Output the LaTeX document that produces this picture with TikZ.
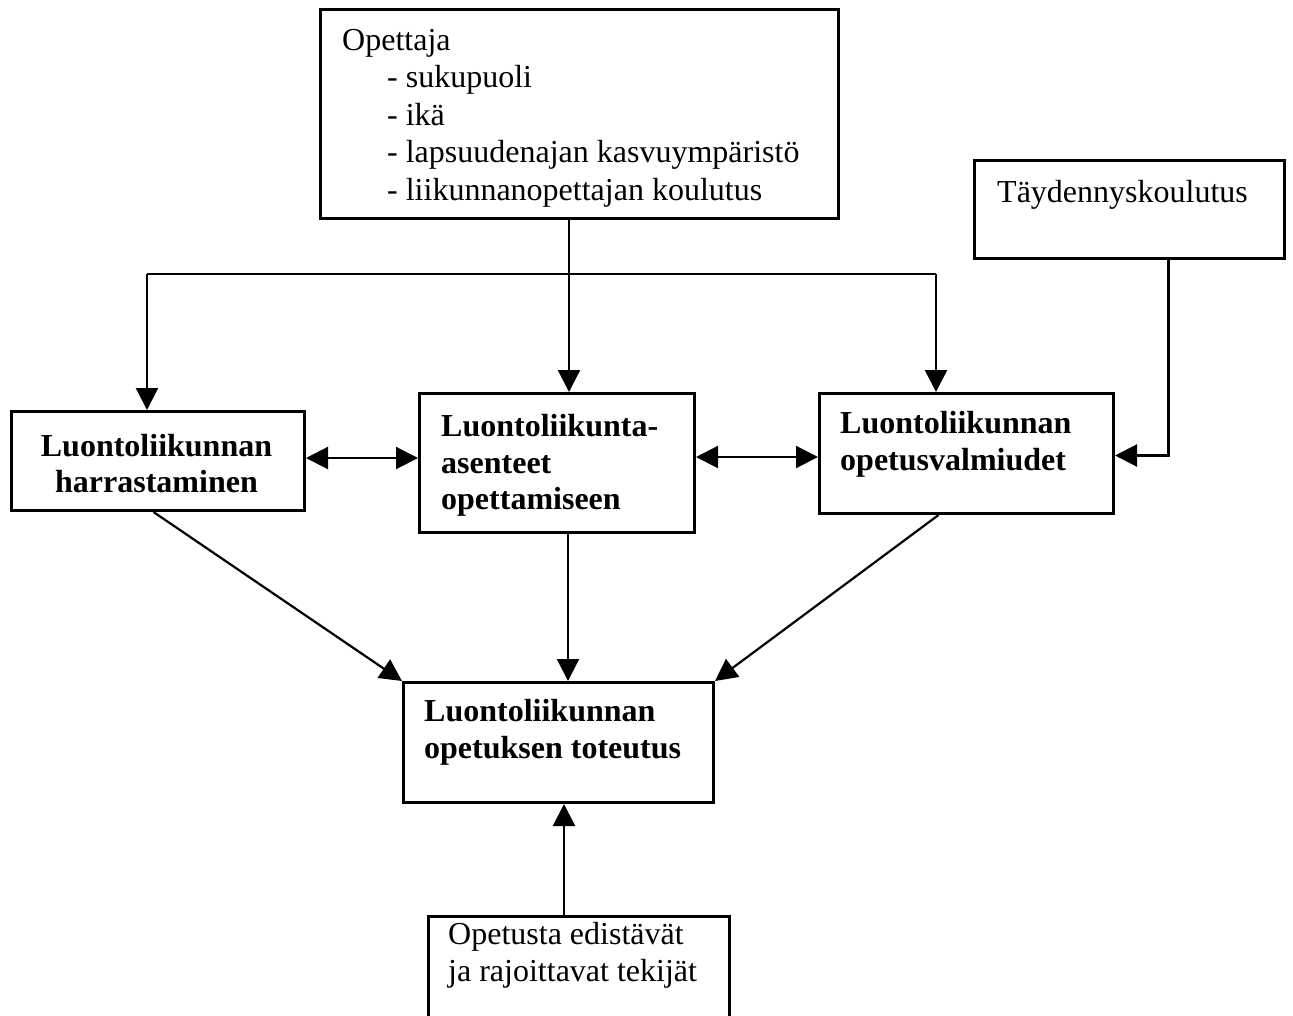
\documentclass[tikz,border=0pt]{standalone}
\usepackage{fontspec}
\setmainfont{Liberation Serif}
\usetikzlibrary{arrows.meta,calc}
\begin{document}
\begin{tikzpicture}[x=1pt,y=-1pt,
  box/.style={draw,line width=3pt,rectangle,anchor=north west,inner sep=0pt},
  txt/.style={anchor=north west,inner sep=0pt,align=left,font=\fontsize{32}{36.5}\selectfont},
  btxt/.style={txt,font=\fontsize{32}{36.5}\selectfont\bfseries},
  conn/.style={line width=2.2pt},
  arr/.style={conn,-{Triangle[length=22pt,width=22pt]}},
  darr/.style={conn,{Triangle[length=22pt,width=22pt]}-{Triangle[length=22pt,width=22pt]}}
]
\useasboundingbox (0,0) rectangle (1293,1015);
\clip (0,0) rectangle (1293,1015);

% boxes
\node[box,minimum width=518pt,minimum height=209pt] (opettaja) at (319,8) {};
\node[box,minimum width=310pt,minimum height=98pt] (tayd) at (973,159) {};
\node[box,minimum width=293pt,minimum height=99pt] (harr) at (10,410) {};
\node[box,minimum width=275pt,minimum height=139pt] (asen) at (418,392) {};
\node[box,minimum width=294pt,minimum height=120pt] (valm) at (818,392) {};
\node[box,minimum width=310pt,minimum height=120pt] (tot) at (402,681) {};
\node[box,minimum width=301pt,minimum height=150pt] (tek) at (427,915) {};

% texts
\node[txt,font=\fontsize{32}{37.5}\selectfont] (opettajaT) at (342,23.75)
  {\strut Opettaja\\
   \hspace*{45pt}- sukupuoli\\
   \hspace*{45pt}- ikä\\
   \hspace*{45pt}- lapsuudenajan kasvuympäristö\\
   \hspace*{45pt}- liikunnanopettajan koulutus};
\node[txt] (taydT) at (997,176.75) {\strut Täydennyskoulutus};
\node[btxt,align=center,anchor=north] (harrT) at (156.5,430.5)
  {\strut Luontoliikunnan\\harrastaminen};
\node[btxt] (asenT) at (441,410.75)
  {\strut Luontoliikunta-\\asenteet\\opettamiseen};
\node[btxt] (valmT) at (840,407.75)
  {\strut Luontoliikunnan\\opetusvalmiudet};
\node[btxt] (totT) at (424,695.75)
  {\strut Luontoliikunnan\\opetuksen toteutus};
\node[txt] (tekT) at (448,919)
  {\strut Opetusta edistävät\\ja rajoittavat tekijät};

% junction coordinates
\coordinate (j) at (569,274);
\coordinate (jL) at (147,274);
\coordinate (jR) at (936,274);
\coordinate (up) at (564,0);

% connectors from Opettaja
\draw[conn] (j |- opettaja.south) -- (j);
\draw[conn] (jL) -- (jR);
\draw[arr] (j) -- (j |- asen.north);
\draw[arr] (jL) -- (jL |- harr.north);
\draw[arr] (jR) -- (jR |- valm.north);

% Taydennyskoulutus
\draw[arr] ([xshift=39pt]tayd.south) |- ([yshift=-2pt]valm.east);

% double arrows
\draw[darr] ([yshift=3pt]harr.east) -- ([yshift=3pt]harr.east -| asen.west);
\draw[darr] ([yshift=6pt]asen.east) -- ([yshift=6pt]asen.east -| valm.west);

% to toteutus
\draw[arr] ([xshift=-4.5pt]harr.south) -- (tot.north west);
\draw[arr] ([xshift=11pt]asen.south) -- ([xshift=11pt]asen.south |- tot.north);
\draw[arr] ([xshift=-28pt]valm.south) -- (tot.north east);
\draw[arr] (tek.north -| up) -- (tot.south -| up);
\end{tikzpicture}
\end{document}
